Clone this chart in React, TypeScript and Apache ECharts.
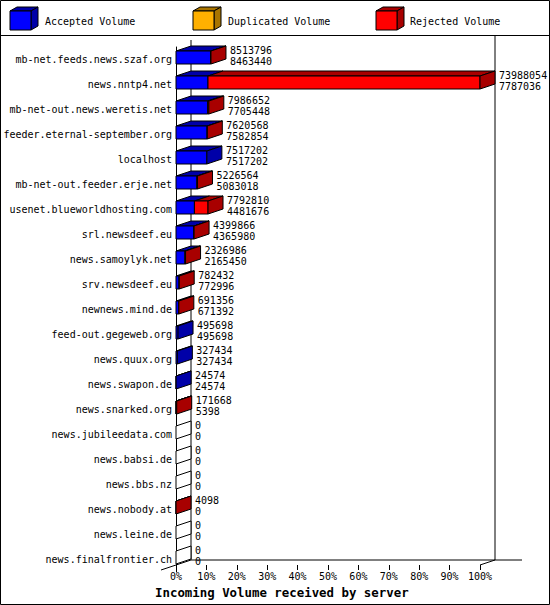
import React, { useRef, useEffect } from 'react';
import * as echarts from 'echarts';

const hosts = [
  'mb-net.feeds.news.szaf.org',
  'news.nntp4.net',
  'mb-net-out.news.weretis.net',
  'feeder.eternal-september.org',
  'localhost',
  'mb-net-out.feeder.erje.net',
  'usenet.blueworldhosting.com',
  'srl.newsdeef.eu',
  'news.samoylyk.net',
  'srv.newsdeef.eu',
  'newnews.mind.de',
  'feed-out.gegeweb.org',
  'news.quux.org',
  'news.swapon.de',
  'news.snarked.org',
  'news.jubileedata.com',
  'news.babsi.de',
  'news.bbs.nz',
  'news.nobody.at',
  'news.leine.de',
  'news.finalfrontier.ch',
];

// first number next to each bar
const totalVolume = [
  8513796, 73988054, 7986652, 7620568, 7517202, 5226564, 7792810, 4399866,
  2326986, 782432, 691356, 495698, 327434, 24574, 171668, 0, 0, 0, 4098, 0, 0,
];

// second number next to each bar
const acceptedVolume = [
  8463440, 7787036, 7705448, 7582854, 7517202, 5083018, 4481676, 4365980,
  2165450, 772996, 671392, 495698, 327434, 24574, 5398, 0, 0, 0, 0, 0, 0,
];

const duplicatedVolume = [
  0, 0, 0, 0, 0, 0, 0, 0, 0, 0, 0, 0, 0, 0, 0, 0, 0, 0, 0, 0, 0,
];

const percentTicks = [0, 10, 20, 30, 40, 50, 60, 70, 80, 90, 100];

const SEGMENTS = [
  { name: 'Accepted Volume', front: '#0000ff', side: '#0000a8' },
  { name: 'Duplicated Volume', front: '#ffb000', side: '#a87400' },
  { name: 'Rejected Volume', front: '#ff0000', side: '#a80000' },
];

const MONO = '"DejaVu Sans Mono", monospace';
const DX = 15;
const DY = 5;

const maxTotal = Math.max(...totalVolume);

const cube = (x: number, y: number, front: string, side: string) => [
  {
    type: 'polygon',
    shape: { points: [[x, y], [x + 21, y], [x + 28, y - 4], [x + 7, y - 4]] },
    style: { fill: side, stroke: '#000', lineWidth: 1 },
  },
  {
    type: 'polygon',
    shape: { points: [[x + 21, y], [x + 28, y - 4], [x + 28, y + 15], [x + 21, y + 19]] },
    style: { fill: side, stroke: '#000', lineWidth: 1 },
  },
  {
    type: 'rect',
    shape: { x, y, width: 21, height: 19 },
    style: { fill: front, stroke: '#000', lineWidth: 1 },
  },
];

const App: React.FC = () => {
  const chartRef = useRef<HTMLDivElement>(null);

  useEffect(() => {
    if (!chartRef.current) return;
    const chart = echarts.init(chartRef.current, undefined, { renderer: 'svg' });

    const bars = hosts.map((_, i) => [
      0,
      i,
      acceptedVolume[i],
      duplicatedVolume[i],
      totalVolume[i] - acceptedVolume[i] - duplicatedVolume[i],
      totalVolume[i],
    ]);

    const renderBar = (_params: any, api: any) => {
      const row = api.value(1);
      const parts = [api.value(2), api.value(3), api.value(4)];
      const total = api.value(5);
      const band = api.size([0, 1])[1];
      const cy = api.coord([0, row])[1];
      const yTop = cy - band * 0.34;
      const yBot = cy + band * 0.18;
      const xOf = (v: number) => api.coord([(v / maxTotal) * 100, row])[0];
      const children: any[] = [];

      let last = -1;
      parts.forEach((v, k) => {
        if (v > 0) last = k;
      });

      let sum = 0;
      parts.forEach((v, k) => {
        if (v <= 0) return;
        const xa = xOf(sum);
        const xb = xOf(sum + v);
        sum += v;
        children.push({
          type: 'polygon',
          shape: { points: [[xa, yTop], [xb, yTop], [xb + DX, yTop - DY], [xa + DX, yTop - DY]] },
          style: { fill: SEGMENTS[k].side, stroke: '#000', lineWidth: 1 },
        });
        children.push({
          type: 'rect',
          shape: { x: xa, y: yTop, width: xb - xa, height: yBot - yTop },
          style: { fill: SEGMENTS[k].front, stroke: '#000', lineWidth: 1 },
        });
      });

      const xEnd = xOf(total);
      children.push({
        type: 'polygon',
        shape: {
          points: [[xEnd, yTop], [xEnd + DX, yTop - DY], [xEnd + DX, yBot - DY], [xEnd, yBot]],
        },
        style: { fill: last >= 0 ? SEGMENTS[last].side : '#ffffff', stroke: '#000', lineWidth: 1 },
      });

      children.push({
        type: 'text',
        style: {
          text: `${total}\n${parts[0]}`,
          x: xEnd + DX + 4,
          y: cy - band * 0.16,
          fill: '#000',
          font: `10px ${MONO}`,
          lineHeight: 11,
          verticalAlign: 'middle',
        },
      });

      return { type: 'group', children };
    };

    // 3D frame: back wall and floor edges, placed from the axes
    const renderFrame = (_params: any, api: any) => {
      const band = api.size([0, 1])[1];
      const [x0, yFirst] = api.coord([0, 0]);
      const x100 = api.coord([100, 0])[0];
      const yLast = api.coord([0, hosts.length - 1])[1];
      const floorY = yLast + band * 0.22;
      const backY = floorY - DY;
      const line = (x1: number, y1: number, x2: number, y2: number) => ({
        type: 'line',
        shape: { x1, y1, x2, y2 },
        style: { stroke: '#000', lineWidth: 1 },
      });
      return {
        type: 'group',
        children: [
          line(x0 + DX, yFirst - band * 0.78, x0 + DX, backY),
          line(x100 + DX, yFirst - band * 0.96, x100 + DX, backY),
          line(x0 + DX, backY, x100 + DX + 27, backY),
          line(x0 - DX, floorY + DY, x0 + DX, backY),
          line(x100, floorY, x100 + DX, backY),
        ],
      };
    };

    const option: echarts.EChartsOption = {
      animation: false,
      backgroundColor: '#ffffff',
      grid: { left: 176, top: 47, width: 304, height: 525 },
      xAxis: {
        type: 'value',
        min: 0,
        max: 100,
        interval: 10,
        offset: -7,
        axisLine: { show: false },
        axisTick: { show: true, length: 5, lineStyle: { color: '#000' } },
        splitLine: { show: false },
        axisLabel: {
          color: '#000',
          fontFamily: MONO,
          fontSize: 10,
          margin: 6,
          formatter: (v: number) => (percentTicks.includes(v) ? `${v}%` : ''),
        },
      },
      yAxis: {
        type: 'category',
        inverse: true,
        data: hosts,
        axisLine: { show: true, lineStyle: { color: '#000', width: 1 } },
        axisTick: { show: false },
        splitLine: { show: false },
        axisLabel: { color: '#000', fontFamily: MONO, fontSize: 10, margin: 4 },
      },
      graphic: [
        {
          type: 'rect',
          shape: { x: 0.5, y: 0.5, width: 549, height: 604 },
          style: { fill: 'none', stroke: '#000', lineWidth: 1 },
        },
        {
          type: 'line',
          shape: { x1: 0, y1: 35.5, x2: 550, y2: 35.5 },
          style: { stroke: '#000', lineWidth: 1 },
        },
        ...cube(10, 11, SEGMENTS[0].front, SEGMENTS[0].side),
        ...cube(193, 11, SEGMENTS[1].front, SEGMENTS[1].side),
        ...cube(376, 11, SEGMENTS[2].front, SEGMENTS[2].side),
        ...SEGMENTS.map((s, k) => ({
          type: 'text',
          style: {
            text: s.name,
            x: [45, 228, 410][k],
            y: 21,
            fill: '#000',
            font: `10px ${MONO}`,
            verticalAlign: 'middle',
          },
        })),
        {
          type: 'text',
          style: {
            text: 'Incoming Volume received by server',
            x: 155,
            y: 592,
            fill: '#000',
            font: `bold 12.4px ${MONO}`,
            verticalAlign: 'middle',
          },
        },
      ] as any,
      series: [
        {
          type: 'custom',
          name: 'frame',
          data: [[0, 0]],
          encode: { x: 0, y: 1 },
          renderItem: renderFrame as any,
          z: 1,
          silent: true,
        },
        {
          type: 'custom',
          name: 'volume',
          data: bars,
          encode: { x: 0, y: 1 },
          renderItem: renderBar as any,
          z: 2,
          silent: true,
        },
      ],
    };

    chart.setOption(option);

    return () => {
      chart.dispose();
    };
  }, []);

  return (
    <div
      ref={chartRef}
      style={{ position: 'absolute', left: 0, top: 0, width: '550px', height: '605px' }}
    />
  );
};

export default App;
